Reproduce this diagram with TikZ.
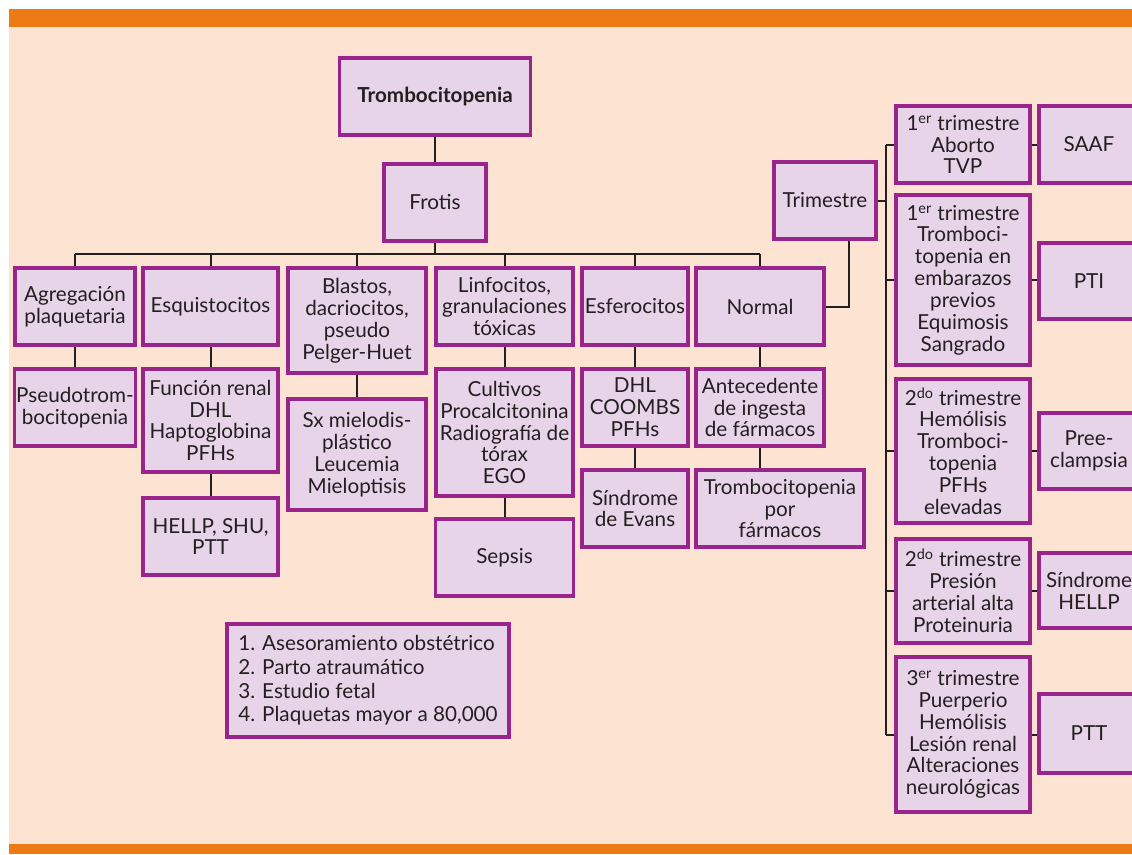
\documentclass[tikz,border=0pt]{standalone}
\usepackage{fontspec}
\setmainfont{Lato}
\definecolor{barorange}{HTML}{EE7A16}
\definecolor{peach}{HTML}{FDE4D2}
\definecolor{boxfill}{HTML}{E7D4E8}
\definecolor{boxline}{HTML}{98248C}
\definecolor{ink}{HTML}{231F20}
\begin{document}
\begin{tikzpicture}[x=0.75pt,y=-0.75pt,
  every node/.style={font=\fontsize{15.5}{16.4}\selectfont,text=ink},
  bx/.style 2 args={draw=boxline,fill=boxfill,line width=2.3pt,align=center,inner sep=1pt,
    minimum width=#1*0.75pt,minimum height=#2*0.75pt},
  ln/.style={line width=1.5pt,ink}]
\clip (0,0) rectangle (1132,854);
\fill[peach] (9,27) rectangle (1132,844);
\fill[barorange] (9,9) rectangle (1132,27);
\fill[barorange] (9,844) rectangle (1132,854);
\node[bx={191}{77}] (trombo) at (435,96.5) {\bfseries Trombocitopenia};
\node[bx={102}{77}] (frotis) at (435,202.5) {Frotis};
\coordinate (bar) at (0,254);
\node[bx={120}{77}] (agreg) at (75,306.5) {Agregación\\plaquetaria};
\node[bx={135}{77}] (esquis) at (210.5,306.5) {Esquistocitos};
\node[bx={138}{105}] (blastos) at (357,320.5) {Blastos,\\dacriocitos,\\pseudo\\Pelger-Huet};
\node[bx={137}{77}] (linfo) at (504.5,306.5) {Linfocitos,\\granulaciones\\tóxicas};
\node[bx={106}{77}] (esfero) at (635,306.5) {Esferocitos};
\node[bx={128}{77}] (normal) at (760,306.5) {Normal};
\node[bx={120}{77}] (pseudo) at (75,407.5) {Pseudotrom-\\bocitopenia};
\node[bx={135}{103}] (funcion) at (210.5,420.5) {Función renal\\DHL\\Haptoglobina\\PFHs};
\node[bx={138}{111}] (mielo) at (357,454.5) {Sx mielodis-\\plástico\\Leucemia\\Mieloptisis};
\node[bx={137}{127}] (cultivos) at (504.5,432.5) {Cultivos\\Procalcitonina\\Radiografía de\\tórax\\EGO};
\node[bx={106}{77}] (dhl) at (635,407.5) {DHL\\COOMBS\\PFHs};
\node[bx={128}{77}] (antec) at (760,407.5) {Antecedente\\de ingesta\\de fármacos};
\node[bx={135}{77}] (hellp) at (210.5,536.5) {HELLP, SHU,\\PTT};
\node[bx={138}{77}] (sepsis) at (504.5,557.5) {Sepsis};
\node[bx={106}{77}] (evans) at (635,508.5) {Síndrome\\de Evans};
\node[bx={168}{77}] (farmacos) at (780,508.5) {Trombocitopenia\\por\\fármacos};
\node[bx={282}{113},align=left,font=\fontsize{15.5}{17.8}\selectfont] (manejo) at (368,680.5) {1. Asesoramiento obstétrico\\2. Parto atraumático\\3. Estudio fetal\\4. Plaquetas mayor a 80,000};
\node[bx={102}{77}] (trimestre) at (825,200.5) {Trimestre};
\coordinate (spine) at (886,0);
\node[bx={134}{77}] (t1) at (963,144.5) {1\textsuperscript{er} trimestre\\Aborto\\TVP};
\node[bx={134}{170}] (t2) at (963,280) {1\textsuperscript{er} trimestre\\Tromboci-\\topenia en\\embarazos\\previos\\Equimosis\\Sangrado};
\node[bx={134}{144}] (t3) at (963,451) {2\textsuperscript{do} trimestre\\Hemólisis\\Tromboci-\\topenia\\PFHs\\elevadas};
\node[bx={134}{104}] (t4) at (963,591) {2\textsuperscript{do} trimestre\\Presión\\arterial alta\\Proteinuria};
\node[bx={134}{155}] (t5) at (963,734.5) {3\textsuperscript{er} trimestre\\Puerperio\\Hemólisis\\Lesión renal\\Alteraciones\\neurológicas};
\node[bx={100}{77}] (saaf) at (1089,144.5) {SAAF};
\node[bx={100}{76}] (pti) at (1089,281) {PTI};
\node[bx={100}{76}] (pree) at (1089,451) {Pree-\\clampsia};
\node[bx={100}{75}] (shellp) at (1089,590.5) {Síndrome\\HELLP};
\node[bx={100}{79}] (ptt) at (1089,733.5) {PTT};
\draw[ln] (trombo) -- (frotis);
\draw[ln] (frotis.south) -- (frotis.south |- bar);
\draw[ln] (agreg.north |- bar) -- (normal.north |- bar);
\foreach \n in {agreg,esquis,blastos,linfo,esfero,normal}
  \draw[ln] (\n.north) -- (\n.north |- bar);
\foreach \a/\b in {agreg/pseudo,esquis/funcion,funcion/hellp,blastos/mielo,linfo/cultivos,cultivos/sepsis,esfero/dhl,dhl/evans,normal/antec}
  \draw[ln] (\a) -- (\b);
\draw[ln] (antec.south) -- (antec.south |- farmacos.north);
\draw[ln] (normal.east) -| ([xshift=18pt]trimestre.south);
\draw[ln] (trimestre.east) -- (trimestre.east -| spine);
\draw[ln] (t1.west -| spine) -- (t5.west -| spine);
\foreach \tb/\rb in {t1/saaf,t2/pti,t3/pree,t4/shellp,t5/ptt}{
  \draw[ln] (\tb.west) -- (\tb.west -| spine);
  \draw[ln] (\tb) -- (\tb -| \rb.west);
}
\end{tikzpicture}
\end{document}
